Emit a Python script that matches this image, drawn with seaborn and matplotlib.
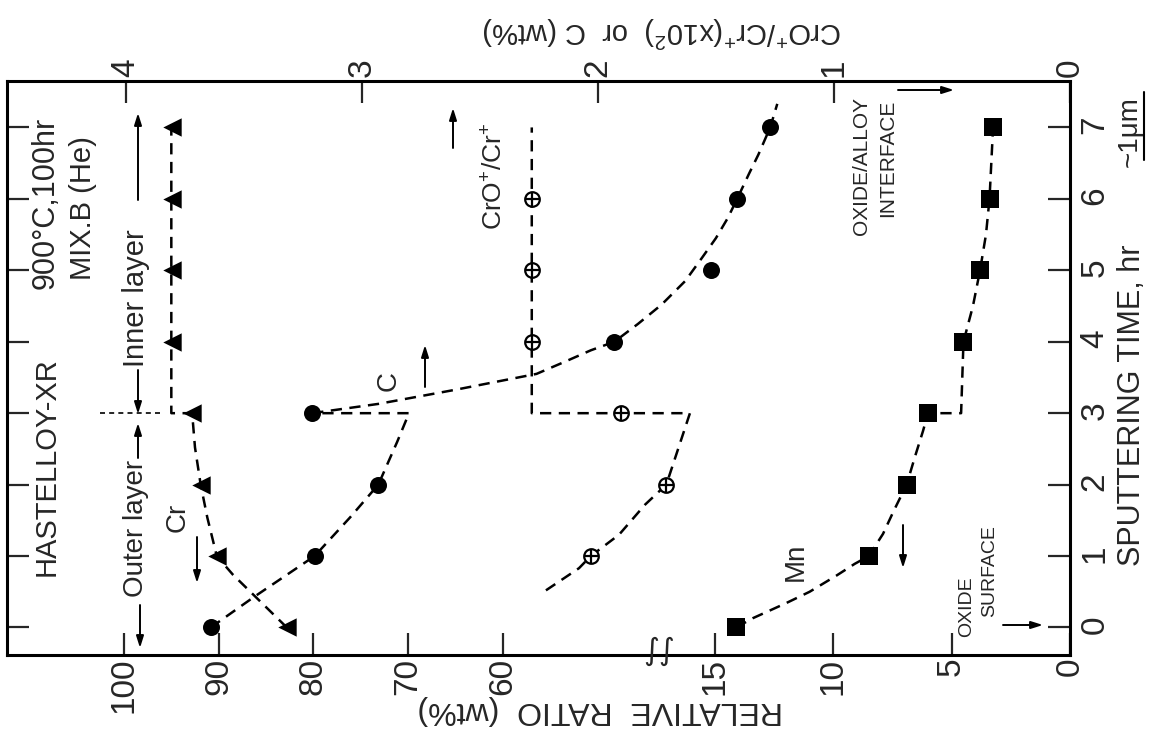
import matplotlib
matplotlib.use("Agg")
import matplotlib.pyplot as plt
import seaborn as sns
from matplotlib import font_manager
from matplotlib.lines import Line2D

# ---------------- data ----------------
time_hr = [0, 1, 2, 3, 4, 5, 6, 7]
cr_wt = [82.8, 90.2, 91.9, 92.8, 94.9, 94.9, 94.9, 94.9]      # Cr, bottom (ratio) axis
mn_wt = [14.1, 8.5, 6.9, 6.0, 4.5, 3.8, 3.4, 3.25]            # Mn, bottom (ratio) axis, low segment
c_wt = [3.64, 3.20, 2.93, 3.21, 1.93, 1.52, 1.41, 1.27]       # C, top axis
cro_time = [1, 2, 3, 4, 5, 6]
cro_ratio = [2.03, 1.71, 1.90, 2.28, 2.28, 2.28]              # CrO+/Cr+ (x10^2), top axis

# hand-drawn dashed trend lines
cr_fit_t = [0, 0.74, 1, 1.54, 2, 2.52, 3, 3, 7.1]
cr_fit_v = [82.8, 88.5, 90.2, 91.2, 91.9, 92.5, 92.8, 95.0, 95.0]
mn_fit_t = [0, 0.13, 0.34, 0.5, 0.73, 0.89, 1, 1.31, 1.63, 2, 2.39, 2.75, 3, 3, 4, 4.5, 5, 5.5, 6, 7]
mn_fit_v = [14.1, 13.4, 12.0, 11.0, 9.85, 9.1, 8.5, 7.9, 7.45, 6.9, 6.55, 6.21, 6.0, 4.6, 4.5, 4.1, 3.8, 3.55, 3.4, 3.25]
c_out_t = [0, 0.42, 1, 1.54, 2, 2.6, 3.0, 3.0]
c_out_u = [3.64, 3.46, 3.20, 3.05, 2.93, 2.85, 2.80, 3.21]
c_in_t = [3, 3.13, 3.33, 3.55, 3.72, 3.88, 4, 4.25, 4.52, 4.85, 5.17, 5.45, 5.73, 6, 6.35, 6.62, 7, 7.33]
c_in_u = [3.21, 2.93, 2.60, 2.26, 2.14, 2.03, 1.93, 1.83, 1.73, 1.63, 1.56, 1.50, 1.45, 1.41, 1.36, 1.32, 1.27, 1.24]
cro_fit_t = [0.52, 0.83, 1.0, 1.3, 1.72, 2.0, 2.5, 3.0, 3.0, 7.0]
cro_fit_u = [2.22, 2.08, 2.03, 1.91, 1.80, 1.71, 1.66, 1.61, 2.28, 2.28]

ratio_ticks_hi = [100, 90, 80, 70, 60]
ratio_ticks_lo = [15, 10, 5, 0]
top_ticks = [4, 3, 2, 1, 0]
time_ticks = [0, 1, 2, 3, 4, 5, 6, 7]
layer_boundary_t = 3.0

# ---------------- styling ----------------
sns.set_style("white")
avail = {f.name for f in font_manager.fontManager.ttflist}
narrow = "Liberation Sans Narrow" if "Liberation Sans Narrow" in avail else "Liberation Sans"
plt.rcParams["font.family"] = ["Liberation Sans", "DejaVu Sans"]
plt.rcParams["mathtext.fontset"] = "custom"
plt.rcParams["mathtext.rm"] = "Liberation Sans"
plt.rcParams["mathtext.it"] = "Liberation Sans:italic"
plt.rcParams["mathtext.bf"] = "Liberation Sans:bold"

W, H = 1151, 731
fig = plt.figure(figsize=(W / 100, H / 100), dpi=100)
L, R, T, B, BRK = 7, 1070, 81, 655, 660


def box(x0, x1):
    return [x0 / W, 1 - B / H, (x1 - x0) / W, (B - T) / H]


def P(x, y):
    return (x / W, 1 - y / H)


ax1 = fig.add_axes(box(L, BRK))
ax2 = fig.add_axes(box(BRK, R))
axc = fig.add_axes(box(L, R))
for a in (ax1, ax2, axc):
    a.set_facecolor("none")
for a in (ax1, ax2):
    for s in a.spines.values():
        s.set_visible(False)
for s in axc.spines.values():
    s.set_linewidth(2.2)
    s.set_color("black")

TL = 16
# bottom ratio axis, upper segment
ax1.set_xticks(ratio_ticks_hi)
ax1.set_xticklabels([str(v) for v in ratio_ticks_hi])
ax1.tick_params(axis="x", bottom=True, top=False, direction="in", length=TL, width=1.6,
                labelrotation=90, labelsize=24, pad=2, labelfontfamily=narrow)
ax1.set_yticks(time_ticks)
ax1.tick_params(axis="y", left=True, right=False, labelleft=False, direction="in",
                length=TL, width=1.6)
# bottom ratio axis, lower segment + time axis on the right
ax2.set_xticks(ratio_ticks_lo)
ax2.set_xticklabels([str(v) for v in ratio_ticks_lo])
ax2.tick_params(axis="x", bottom=True, top=False, direction="in", length=TL, width=1.6,
                labelrotation=90, labelsize=24, pad=2, labelfontfamily=narrow)
ax2.yaxis.tick_right()
ax2.set_yticks(time_ticks)
ax2.set_yticklabels([str(v) for v in time_ticks])
ax2.tick_params(axis="y", left=False, right=True, labelright=True, labelleft=False,
                direction="in", length=TL, width=1.6, labelrotation=90, labelsize=24,
                pad=7, labelfontfamily=narrow)
# top axis CrO+/Cr+ or C
axc.xaxis.tick_top()
axc.set_xticks(top_ticks)
axc.set_xticklabels([str(v) for v in top_ticks])
axc.tick_params(axis="x", top=True, bottom=False, labeltop=True, labelbottom=False,
                direction="in", length=TL, width=1.6, labelrotation=90, labelsize=24,
                pad=3, labelfontfamily=narrow)
axc.set_yticks([])

# ---------------- marks ----------------
dash = (0, (4.5, 3))
lkw = dict(sort=False, estimator=None, color="black", lw=1.8, linestyle=dash, legend=False)
sns.lineplot(x=cr_fit_v, y=cr_fit_t, ax=ax1, **lkw)
sns.lineplot(x=mn_fit_v, y=mn_fit_t, ax=ax2, **lkw)
sns.lineplot(x=c_out_u, y=c_out_t, ax=axc, **lkw)
sns.lineplot(x=c_in_u, y=c_in_t, ax=axc, **lkw)
sns.lineplot(x=cro_fit_u, y=cro_fit_t, ax=axc, **lkw)

sns.scatterplot(x=cr_wt, y=time_hr, ax=ax1, marker="<", s=175, color="black",
                linewidth=0, zorder=5, legend=False)
sns.scatterplot(x=mn_wt, y=time_hr, ax=ax2, marker="s", s=150, color="black",
                linewidth=0, zorder=5, legend=False)
sns.scatterplot(x=c_wt, y=time_hr, ax=axc, marker="o", s=150, color="black",
                linewidth=0, zorder=5, legend=False)
sns.scatterplot(x=cro_ratio, y=cro_time, ax=axc, marker="o", s=110, facecolor="white",
                edgecolor="black", linewidth=1.6, zorder=5, legend=False)
sns.scatterplot(x=cro_ratio, y=cro_time, ax=axc, marker="+", s=110, color="black",
                linewidth=1.6, zorder=6, legend=False)

# limits (after seaborn autoscaling)
ax1.set_xlim(112.35, 43.4)
ax2.set_xlim(17.32, 0)
axc.set_xlim(4.503, 0)
for a in (ax1, ax2, axc):
    a.set_ylim(-0.385, 7.65)

# outer / inner layer boundary
ax1.plot([102.5, 96.2], [layer_boundary_t, layer_boundary_t], color="black", lw=1.2,
         linestyle=(0, (3, 2.5)))

# axis titles
ax1.set_xlabel("RELATIVE  RATIO  (wt%)", fontsize=23, rotation=180, va="center", ha="center")
ax1.xaxis.set_label_coords((600 - L) / (BRK - L), (B - 710) / (B - T))
axc.xaxis.set_label_position("top")
axc.set_xlabel(r"CrO$^{+}$/Cr$^{+}$(x10$^{2}$)  or  C (wt%)", fontsize=21, rotation=180,
               va="center", ha="center")
axc.xaxis.set_label_coords((662 - L) / (R - L), (B - 32) / (B - T))
ax2.yaxis.set_label_position("right")
ax2.set_ylabel("SPUTTERING TIME, hr", fontsize=22, rotation=90, va="center", ha="center")
ax2.yaxis.set_label_coords((1132 - BRK) / (R - BRK), (B - 405) / (B - T))

# ---------------- annotations ----------------
def txt(x, y, s, size=21, rot=90, **kw):
    fig.text(*P(x, y), s, fontsize=size, rotation=rot, ha="center", va="center", **kw)


txt(47, 467, "HASTELLOY-XR", 21)
txt(46, 203, "900°C,100hr", 22)
txt(83, 208, "MIX.B (He)", 21)
txt(136, 528, "Outer layer", 20)
txt(136, 298, "Inner layer", 21)
txt(178, 517, "Cr", 20)
txt(389, 381, "C", 20)
txt(495, 176, r"CrO$^{+}$/Cr$^{+}$", 19)
txt(796, 562, "Mn", 20)
txt(967, 607, "OXIDE", 14)
txt(990, 571, "SURFACE", 14)
txt(862, 166, "OXIDE/ALLOY", 15)
txt(888, 158, "INTERFACE", 15)
txt(1130, 132, "~1μm", 20)
fig.add_artist(Line2D([1144 / W, 1144 / W], [1 - 92 / H, 1 - 160 / H], color="black", lw=1.5))
txt(659, 651, "∫∫", 22, rot=0, family="DejaVu Sans")

arrows = [((140, 605), (140, 648)), ((138, 458), (138, 423)),
          ((138, 370), (138, 414)), ((138, 200), (138, 113)),
          ((197, 537), (197, 583)), ((425, 387), (425, 345)),
          ((453, 148), (453, 108)), ((903, 525), (903, 568)),
          ((1003, 625), (1043, 625)), ((898, 90), (954, 90))]
for tail, head in arrows:
    axc.annotate("", xy=P(*head), xytext=P(*tail), xycoords="figure fraction",
                 textcoords="figure fraction",
                 arrowprops=dict(arrowstyle="-|>,head_length=0.7,head_width=0.22",
                                 color="black", lw=1.4, shrinkA=0, shrinkB=0))

fig.savefig("out.png", dpi=100, facecolor="white")
